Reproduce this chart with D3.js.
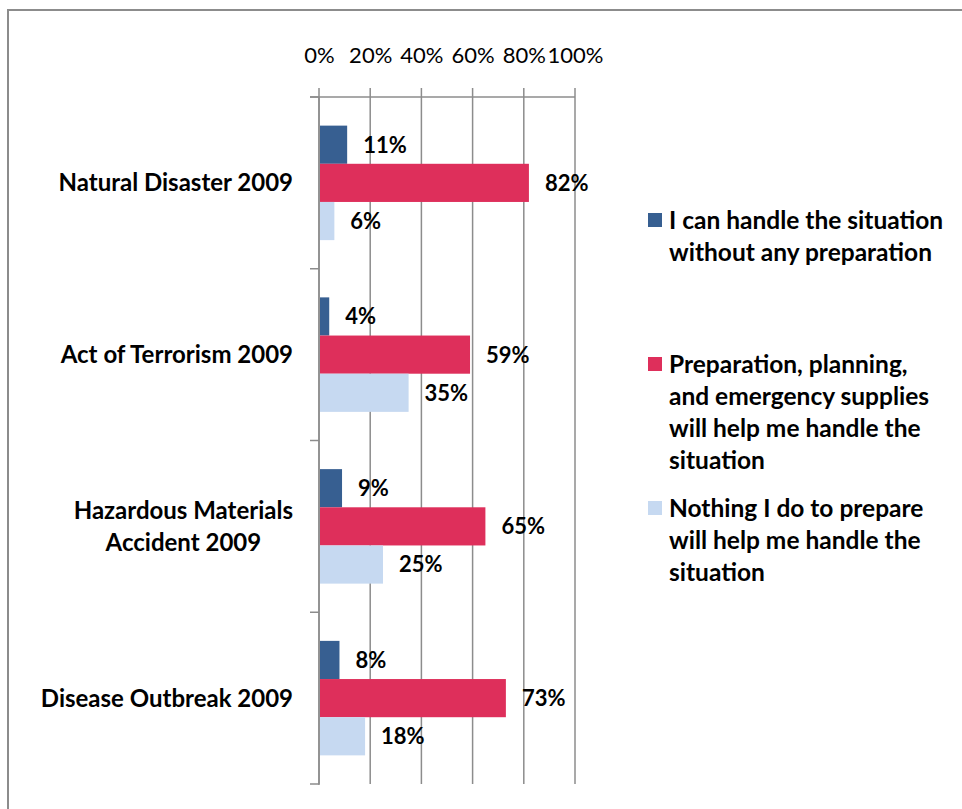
<!DOCTYPE html>
<html>
<head>
<meta charset="utf-8">
<script src="https://cdn.jsdelivr.net/npm/d3@7"></script>
<style>
  body { margin: 0; background: #fff; }
  svg { display: block; font-family: Lato, "Open Sans", sans-serif; }
</style>
</head>
<body>
<svg id="chart" width="962" height="809"></svg>
<script>
var categories = ['Natural Disaster 2009', 'Act of Terrorism 2009', 'Hazardous Materials\nAccident 2009', 'Disease Outbreak 2009'];
var seriesNames = [
    'I can handle the situation\nwithout any preparation',
    'Preparation, planning,\nand emergency supplies\nwill help me handle the\nsituation',
    'Nothing I do to prepare\nwill help me handle the\nsituation'
];
var seriesColors = ['#375f91', '#de2f5b', '#c6d9f1'];
var canHandle = [11, 4, 9, 8];
var preparation = [82, 59, 65, 73];
var nothing = [6, 35, 25, 18];
var tickValues = [0, 20, 40, 60, 80, 100];

var series = [canHandle, preparation, nothing];

var svg = d3.select('#chart');

// outer frame, runs off the right and bottom edge
svg.append('rect')
    .attr('x', 8).attr('y', 10)
    .attr('width', 1000).attr('height', 1000)
    .attr('fill', 'none')
    .attr('stroke', '#8c8c8c')
    .attr('stroke-width', 2);

var x = d3.scaleLinear().domain([0, 100]).range([319, 575]);
var y = d3.scaleBand().domain(d3.range(categories.length)).range([97, 784]);
var inner = d3.scaleBand().domain(d3.range(series.length))
    .range([0, y.bandwidth()]).paddingOuter(0.75).paddingInner(0);

// gridlines + ticks above the axis
svg.append('g')
    .selectAll('line')
    .data(tickValues)
    .enter()
    .append('line')
    .attr('x1', function (d) { return x(d); })
    .attr('x2', function (d) { return x(d); })
    .attr('y1', 88)
    .attr('y2', 784)
    .attr('stroke', '#8c8c8c')
    .attr('stroke-width', 1.5);

// top axis
var xAxis = d3.axisTop(x)
    .tickValues(tickValues)
    .tickFormat(function (d) { return d + '%'; })
    .tickSize(0)
    .tickPadding(0);

var axisG = svg.append('g')
    .attr('transform', 'translate(0,97)')
    .call(xAxis);
axisG.select('.domain').remove();
axisG.selectAll('text')
    .attr('y', -42)
    .attr('dy', '0.35em')
    .style('font-family', 'Lato, sans-serif')
    .style('font-size', '22px')
    .attr('fill', '#000');

svg.append('line')
    .attr('x1', 310).attr('x2', x(100))
    .attr('y1', 97).attr('y2', 97)
    .attr('stroke', '#8c8c8c').attr('stroke-width', 1.5);

// left axis with category ticks
svg.append('line')
    .attr('x1', 319).attr('x2', 319)
    .attr('y1', 97).attr('y2', 785)
    .attr('stroke', '#8c8c8c').attr('stroke-width', 1.5);

svg.append('g')
    .selectAll('line')
    .data(d3.range(categories.length + 1))
    .enter()
    .append('line')
    .attr('x1', 310).attr('x2', 319)
    .attr('y1', function (i) { return 97 + i * y.step(); })
    .attr('y2', function (i) { return 97 + i * y.step(); })
    .attr('stroke', '#8c8c8c').attr('stroke-width', 1.5);

// bars
var groups = svg.append('g')
    .selectAll('g')
    .data(categories)
    .enter()
    .append('g')
    .attr('transform', function (d, i) { return 'translate(0,' + y(i) + ')'; });

groups.each(function (c, ci) {
    var g = d3.select(this);
    series.forEach(function (vals, si) {
        g.append('rect')
            .attr('x', x(0) + 1)
            .attr('y', inner(si))
            .attr('width', x(vals[ci]) - x(0) - 1)
            .attr('height', inner.bandwidth())
            .attr('fill', seriesColors[si]);

        g.append('text')
            .attr('x', x(vals[ci]) + 16)
            .attr('y', inner(si) + inner.bandwidth() / 2)
            .attr('dy', '0.36em')
            .style('font-weight', 'bold')
            .style('font-size', '22px')
            .text(vals[ci] + '%');
    });
});

// category labels
categories.forEach(function (c, i) {
    var lines = c.split('\n');
    var t = svg.append('text')
        .style('font-weight', 'bold')
        .style('font-size', '24px')
        .attr('text-anchor', 'middle');
    var lh = 32;
    var cy = y(i) + y.bandwidth() / 2;
    var probe = t.text(lines[0]);
    var w = d3.max(lines, function (l) {
        probe.text(l);
        return probe.node().getComputedTextLength();
    });
    t.text(null);
    lines.forEach(function (l, li) {
        t.append('tspan')
            .attr('x', 293 - w / 2)
            .attr('y', cy + (li - (lines.length - 1) / 2) * lh)
            .attr('dy', '0.35em')
            .text(l);
    });
});

// legend
var legend = svg.append('g');
seriesNames.forEach(function (name, i) {
    var top = 220 + i * 144;
    legend.append('rect')
        .attr('x', 648).attr('y', top - 7)
        .attr('width', 14).attr('height', 14)
        .attr('fill', seriesColors[i]);
    var t = legend.append('text')
        .style('font-weight', 'bold')
        .style('font-size', '24.5px');
    name.split('\n').forEach(function (l, li) {
        t.append('tspan')
            .attr('x', 669)
            .attr('y', top + li * 32)
            .attr('dy', '0.35em')
            .text(l);
    });
});
</script>
</body>
</html>
